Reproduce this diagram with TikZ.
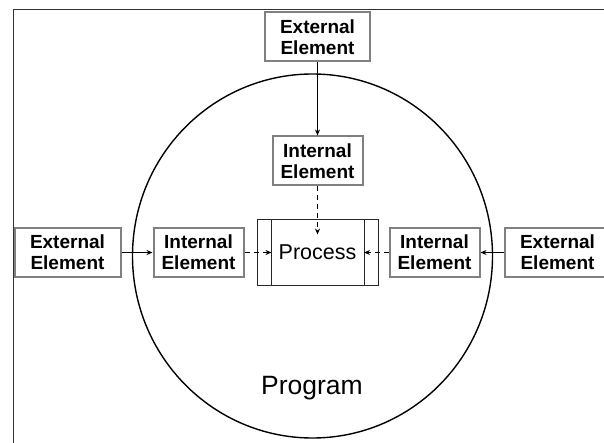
\documentclass[tikz,border=0pt]{standalone}
\usepackage{fontspec}
\setmainfont{Liberation Sans}
\usepackage{tikz}
\usetikzlibrary{arrows.meta, positioning}

\begin{document}
\begin{tikzpicture}[
    x=1pt, y=-1pt,
    >={Stealth[length=6pt,width=5pt]},
    elem/.style={rectangle, draw=black!50, fill=white, line width=2pt, minimum width=#1, minimum height=49pt, inner sep=1pt, align=center, font=\fontsize{19}{21}\selectfont\bfseries},
    elem/.default=90pt,
    proc/.style={rectangle, draw=black!85, line width=1pt, minimum width=121pt, minimum height=65pt, inner sep=0pt, font=\fontsize{21.5}{23}\selectfont},
    arr/.style={->, line width=1.5pt},
    darr/.style={->, line width=1.5pt, dash pattern=on 5pt off 4pt},
    lbl/.style={font=\fontsize{26.5}{28}\selectfont}
]
\useasboundingbox (0,0) rectangle (604,443);

% frame and program boundary
\draw[line width=1pt, black!80] (13,10) rectangle (640,480);
\draw[line width=1.4pt] (312.5,256) ellipse [x radius=180pt, y radius=182pt];

% Process in the middle
\node[proc] (pr) at (317.5,252.5) {Process};
\draw[line width=1pt, black!85] ([xshift=15pt]pr.north west) -- ([xshift=15pt]pr.south west);
\draw[line width=1pt, black!85] ([xshift=-14.5pt]pr.north east) -- ([xshift=-14.5pt]pr.south east);

% Internal elements round the process
\node[elem, left=12pt of pr] (inL) {Internal\\Element};
\node[elem, right=10pt of pr] (inR) {Internal\\Element};
\node[elem, above=33pt of pr] (inT) {Internal\\Element};

% External elements outside the program
\node[elem=106pt, left=31pt of inL] (exL) {External\\Element};
\node[elem=106pt, right=23pt of inR] (exR) {External\\Element};
\node[elem=105pt, above=73pt of inT] (exT) {External\\Element};

% ---- ARROWS ----
\draw[arr] (exL) -- (inL);
\draw[arr] (exR) -- (inR);
\draw[arr] (exT) -- (inT);

\draw[darr] (inL) -- ([xshift=15pt]pr.west);
\draw[darr] (inR) -- ([xshift=-14.5pt]pr.east);
\draw[darr] (inT) -- ([yshift=-15pt]pr.north);

% label
\node[lbl] (prog) at (312,388) {Program};

\end{tikzpicture}
\end{document}
